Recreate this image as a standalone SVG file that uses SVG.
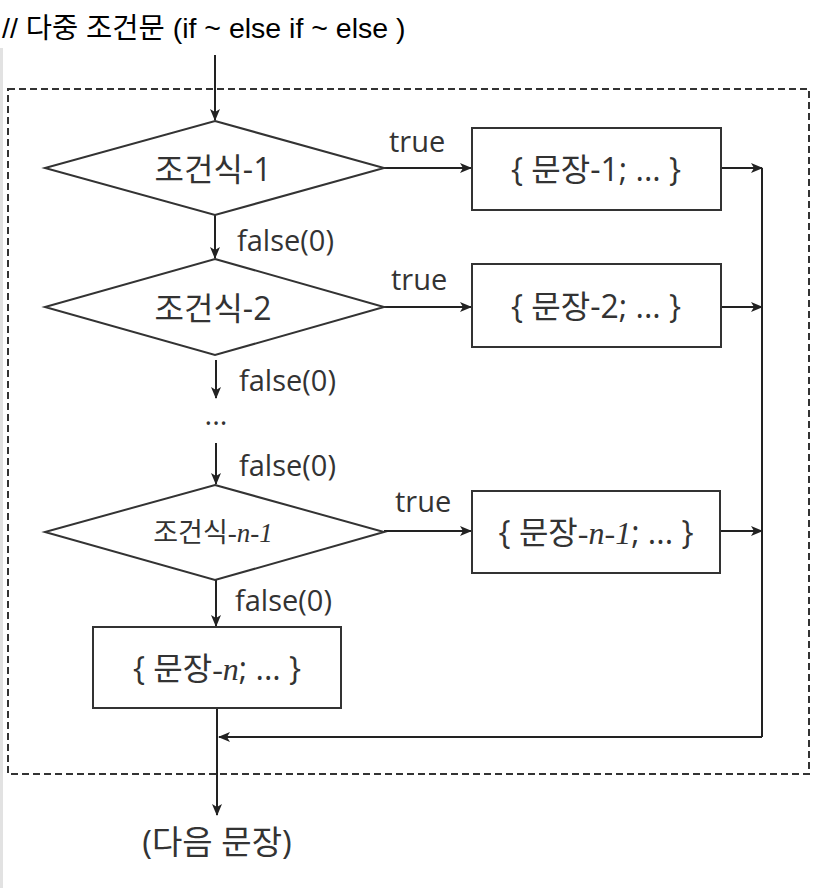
<svg xmlns="http://www.w3.org/2000/svg" width="824" height="888" viewBox="0 0 824 888">
<style>
.ln{stroke:#222;stroke-width:2;fill:none}
.shape{stroke:#333;stroke-width:2;fill:#fff}
.lbl{font-family:"Open Sans","Noto Sans","Noto Sans CJK KR",sans-serif;font-size:29px;fill:#333}
.node{font-family:"Open Sans","Noto Sans","Noto Sans CJK KR",sans-serif;font-size:32px;fill:#333;text-anchor:middle}
.it{font-family:"Liberation Serif",serif;font-style:italic}
</style>
<defs>
<marker id="ah" viewBox="0 0 12 10" refX="11" refY="5" markerWidth="12" markerHeight="10" markerUnits="userSpaceOnUse" orient="auto">
<path d="M0,0 L12,5 L0,10 L3,5 Z" fill="#222"/>
</marker>
</defs>
<rect width="824" height="888" fill="#fff"/>
<line x1="1.5" y1="48" x2="1.5" y2="888" stroke="#e2e2e2" stroke-width="3"/>
<text x="2" y="38" font-family="Liberation Sans,'Noto Sans CJK KR',sans-serif" font-size="28.5" fill="#000">// 다중 조건문 (if ~ else if ~ else )</text>
<rect id="frame" x="8" y="89" width="801" height="685" fill="none" stroke="#333" stroke-width="2" stroke-dasharray="7,4"/>

<g id="connectors">
<line class="ln" x1="215" y1="55" x2="215" y2="120" marker-end="url(#ah)"/>
<line class="ln" x1="384" y1="168" x2="471" y2="168" marker-end="url(#ah)"/>
<line class="ln" x1="215" y1="215" x2="215" y2="258" marker-end="url(#ah)"/>
<line class="ln" x1="384" y1="307" x2="471" y2="307" marker-end="url(#ah)"/>
<line class="ln" x1="216" y1="360" x2="216" y2="398" marker-end="url(#ah)"/>
<line class="ln" x1="216" y1="443" x2="216" y2="484" marker-end="url(#ah)"/>
<line class="ln" x1="384" y1="531" x2="471" y2="531" marker-end="url(#ah)"/>
<line class="ln" x1="216" y1="580" x2="216" y2="626" marker-end="url(#ah)"/>
<line class="ln" x1="721" y1="168" x2="762" y2="168" marker-end="url(#ah)"/>
<line class="ln" x1="721" y1="307" x2="762" y2="307" marker-end="url(#ah)"/>
<line class="ln" x1="721" y1="531" x2="762" y2="531" marker-end="url(#ah)"/>
<line class="ln" x1="762" y1="168" x2="762" y2="737"/>
<line class="ln" x1="762" y1="737" x2="219" y2="737" marker-end="url(#ah)"/>
<line class="ln" x1="217" y1="708" x2="217" y2="815" marker-end="url(#ah)"/>
<text class="lbl" x="389" y="152">true</text>
<text class="lbl" x="237" y="251">false(0)</text>
<text class="lbl" x="391" y="290">true</text>
<text class="lbl" x="239" y="391">false(0)</text>
<text class="lbl" x="216" y="425" text-anchor="middle">...</text>
<text class="lbl" x="239" y="476">false(0)</text>
<text class="lbl" x="395" y="512">true</text>
<text class="lbl" x="235" y="611">false(0)</text>
</g>

<g id="cond1">
<polygon class="shape" points="215,121 384,168 215,215 45,168"/>
<text class="node" x="213" y="181">조건식-1</text>
</g>
<g id="cond2">
<polygon class="shape" points="215,259 384,307 215,355 45,307"/>
<text class="node" x="213" y="320">조건식-2</text>
</g>
<g id="condn1">
<polygon class="shape" points="215,485 384,532 215,580 45,532"/>
<text class="node" x="213" y="542" style="font-size:27px">조건식<tspan class="it">-n-1</tspan></text>
</g>
<g id="stmt1">
<rect class="shape" x="472" y="128" width="249" height="82"/>
<text class="node" x="596" y="181">{ 문장-1; ... }</text>
</g>
<g id="stmt2">
<rect class="shape" x="472" y="264" width="249" height="83"/>
<text class="node" x="596" y="318">{ 문장-2; ... }</text>
</g>
<g id="stmtn1">
<rect class="shape" x="472" y="491" width="248" height="82"/>
<text class="node" x="596" y="544">{ 문장<tspan class="it">-n-1</tspan>; ... }</text>
</g>
<g id="stmtn">
<rect class="shape" x="93" y="627" width="248" height="81"/>
<text class="node" x="217" y="680">{ 문장<tspan class="it">-n</tspan>; ... }</text>
</g>
<g id="next">
<text class="node" x="217" y="854" style="font-size:33px">(다음 문장)</text>
</g>
</svg>
